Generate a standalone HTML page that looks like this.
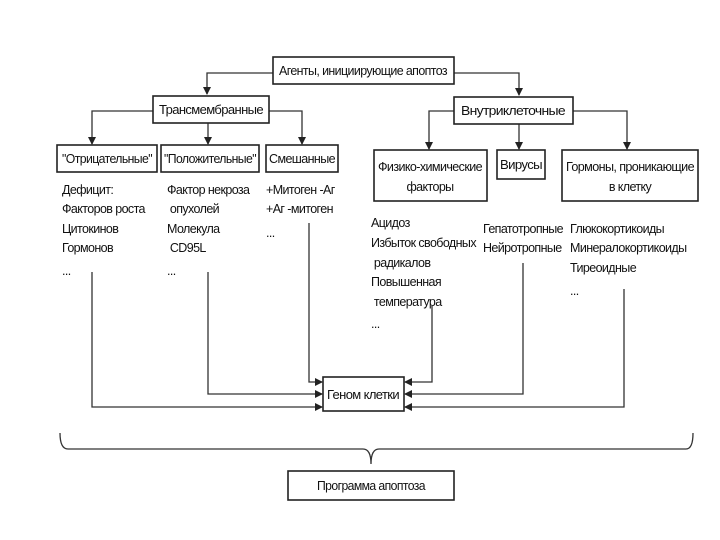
<!DOCTYPE html>
<html><head><meta charset="utf-8"><style>
html,body{margin:0;padding:0;background:#fff;}
svg{display:block}
text{font-family:"Liberation Sans",sans-serif;font-size:12.5px;fill:#111;letter-spacing:-0.6px}
.b{fill:#fff;stroke:#222;stroke-width:1.6}
.l{stroke:#333;stroke-width:1.3;fill:none}
</style></head><body>
<svg width="720" height="540" viewBox="0 0 720 540" xmlns="http://www.w3.org/2000/svg">
<defs><marker id="a" markerWidth="8" markerHeight="8" refX="7" refY="4" orient="auto" markerUnits="userSpaceOnUse"><path d="M0,0 L8,4 L0,8 z" fill="#222"/></marker></defs>

<!-- top connectors -->
<path class="l" d="M273,73 H207 V94" marker-end="url(#a)"/>
<path class="l" d="M454,73 H519 V95" marker-end="url(#a)"/>
<path class="l" d="M153,111 H92 V144" marker-end="url(#a)"/>
<path class="l" d="M208,123 V144" marker-end="url(#a)"/>
<path class="l" d="M269,111 H302 V144" marker-end="url(#a)"/>
<path class="l" d="M454,111 H429 V149" marker-end="url(#a)"/>
<path class="l" d="M519,124 V149" marker-end="url(#a)"/>
<path class="l" d="M573,111 H627 V149" marker-end="url(#a)"/>

<!-- boxes -->
<rect class="b" x="273" y="57" width="181" height="27"/>
<text x="363" y="75" text-anchor="middle" textLength="168" lengthAdjust="spacingAndGlyphs">Агенты, инициирующие апоптоз</text>
<rect class="b" x="153" y="96" width="116" height="27"/>
<text x="211" y="114" text-anchor="middle" textLength="104" lengthAdjust="spacingAndGlyphs">Трансмембранные</text>
<rect class="b" x="454" y="97" width="119" height="27"/>
<text x="513" y="115" text-anchor="middle" textLength="104" lengthAdjust="spacingAndGlyphs">Внутриклеточные</text>

<rect class="b" x="57" y="145" width="100" height="27"/>
<text x="107" y="163" text-anchor="middle" textLength="90" lengthAdjust="spacingAndGlyphs">"Отрицательные"</text>
<rect class="b" x="161" y="145" width="98" height="27"/>
<text x="210" y="163" text-anchor="middle" textLength="92" lengthAdjust="spacingAndGlyphs">"Положительные"</text>
<rect class="b" x="266" y="145" width="72" height="27"/>
<text x="302" y="163" text-anchor="middle" textLength="66" lengthAdjust="spacingAndGlyphs">Смешанные</text>

<rect class="b" x="374" y="150" width="113" height="51"/>
<text x="430" y="171" text-anchor="middle" textLength="104" lengthAdjust="spacingAndGlyphs">Физико-химические</text>
<text x="430" y="191" text-anchor="middle">факторы</text>
<rect class="b" x="497" y="150" width="48" height="29"/>
<text x="521" y="169" text-anchor="middle" textLength="42" lengthAdjust="spacingAndGlyphs">Вирусы</text>
<rect class="b" x="562" y="150" width="136" height="51"/>
<text x="630" y="171" text-anchor="middle" textLength="128" lengthAdjust="spacingAndGlyphs">Гормоны, проникающие</text>
<text x="630" y="191" text-anchor="middle">в клетку</text>

<!-- lists -->
<text x="62" y="194">Дефицит:</text>
<text x="62" y="213">Факторов роста</text>
<text x="62" y="233">Цитокинов</text>
<text x="62" y="252">Гормонов</text>
<text x="62" y="275">...</text>

<text x="167" y="194">Фактор некроза</text>
<text x="167" y="213">&#160;опухолей</text>
<text x="167" y="233">Молекула</text>
<text x="167" y="252">&#160;CD95L</text>
<text x="167" y="275">...</text>

<text x="266" y="194">+Митоген -Аг</text>
<text x="266" y="213">+Аг -митоген</text>
<text x="266" y="237">...</text>

<text x="371" y="227">Ацидоз</text>
<text x="371" y="247">Избыток свободных</text>
<text x="371" y="267">&#160;радикалов</text>
<text x="371" y="286">Повышенная</text>
<text x="371" y="306">&#160;температура</text>
<text x="371" y="328">...</text>

<text x="483" y="233">Гепатотропные</text>
<text x="483" y="252">Нейротропные</text>

<text x="570" y="233">Глюкокортикоиды</text>
<text x="570" y="252">Минералокортикоиды</text>
<text x="570" y="272">Тиреоидные</text>
<text x="570" y="295">...</text>

<!-- lower connectors -->
<path class="l" d="M92,272 V407 H322" marker-end="url(#a)"/>
<path class="l" d="M208,272 V394 H322" marker-end="url(#a)"/>
<path class="l" d="M309,223 V382 H322" marker-end="url(#a)"/>
<path class="l" d="M432,305 V382 H405" marker-end="url(#a)"/>
<path class="l" d="M523,263 V394 H405" marker-end="url(#a)"/>
<path class="l" d="M624,289 V407 H405" marker-end="url(#a)"/>

<rect class="b" x="323" y="377" width="81" height="34"/>
<text x="363" y="399" text-anchor="middle" textLength="72" lengthAdjust="spacingAndGlyphs">Геном клетки</text>

<!-- brace -->
<path class="l" d="M60,433 Q60,449 68,449 H363 Q371,449 371,464 Q371,449 379,449 H686 Q693,449 693,433"/>

<rect class="b" x="288" y="471" width="166" height="29"/>
<text x="371" y="490" text-anchor="middle" textLength="108" lengthAdjust="spacingAndGlyphs">Программа апоптоза</text>
</svg>
</body></html>
